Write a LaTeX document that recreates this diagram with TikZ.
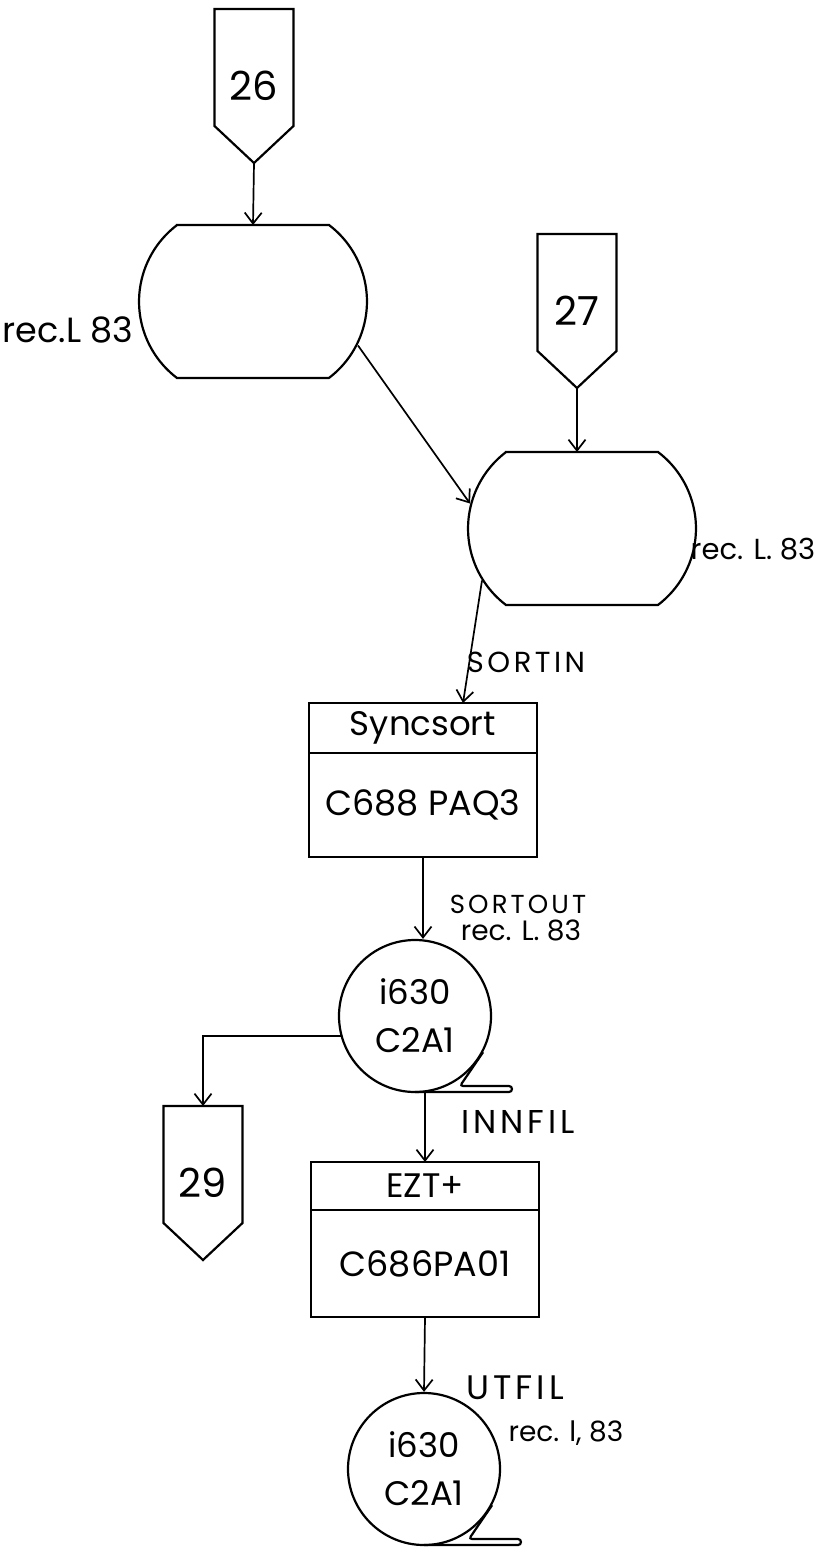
\documentclass[tikz,border=0pt]{standalone}
\usepackage{fontspec}
\setmainfont{Poppins}
\usetikzlibrary{arrows.meta, positioning}

\begin{document}
\begin{tikzpicture}[
    x=1pt, y=-1pt,
    line width=2.2pt,
    offpage/.style={minimum width=79pt, minimum height=154pt, inner sep=0pt, outer sep=0pt, font=\fontsize{40}{44}\selectfont},
    drum/.style={minimum width=230pt, minimum height=153pt, inner sep=0pt, outer sep=0pt},
    tape/.style={draw, circle, minimum size=152pt, inner sep=0pt, align=center, font=\fontsize{34}{48}\selectfont},
    head/.style={draw, minimum width=228pt, minimum height=50pt, inner sep=0pt, outer sep=0pt, font=\fontsize{34}{38}\selectfont},
    body/.style={draw, minimum width=228pt, minimum height=104pt, inner sep=0pt, outer sep=0pt, font=\fontsize{35}{40}\selectfont},
    note/.style={inner sep=0pt, font=\fontsize{28}{32}\selectfont},
    caps/.style={inner sep=0pt, font=\fontsize{#1}{#1}\selectfont\addfontfeature{LetterSpace=12}},
    arrow/.style={-{Straight Barb[length=11pt, width=17pt]}, line width=1.7pt}
]

\fill[white] (0,0) rectangle (815,1549);
\useasboundingbox (0,0) rectangle (815,1549);

\node[offpage] (c26) at (254,86) {26};
\node[drum] (disk1) at (253,301.5) {};
\node[offpage] (c27) at (577,311) {27};
\node[drum] (disk2) at (582,528.5) {};
\node[head] (sync) at (423,728) {Syncsort};
\node[body, below=0pt of sync] (syncbody) {C688 PAQ3};
\node[tape] (tape1) at (415,1016) {i630\\C2A1};
\node[offpage] (c29) at (203,1183) {29};
\node[head, minimum height=48pt] (ezt) at (425,1186) {EZT+};
\node[body, below=0pt of ezt, minimum height=107pt] (eztbody) {C686PA01};
\node[tape] (tape2) at (424,1469) {i630\\C2A1};

\node[note, font=\fontsize{35}{40}\selectfont] (rec1) at (68,330) {rec.L 83};
\node[note, font=\fontsize{29}{32}\selectfont] (rec2) at (753,549) {rec. L. 83};
\node[caps=29] (sortin) at (526,662) {SORTIN};
\node[caps=26] (sortout) at (518,904) {SORTOUT};
\node[note] (rec3) at (521,930) {rec. L. 83};
\node[caps=33] (innfil) at (518,1122) {INNFIL};
\node[caps=34] (utfil) at (515,1388) {UTFIL};
\node[note] (rec4) at (566,1433) {rec. l, 83};

\foreach \pg in {c26,c27,c29}
  \draw (\pg.north west) -- (\pg.north east) -- ([shift={(0,-37)}]\pg.south east)
    -- (\pg.south) -- ([shift={(0,-37)}]\pg.south west) -- cycle;

\foreach \d in {disk1,disk2}
  \draw ([shift={(39,0)}]\d.north west) -- ([shift={(-39,0)}]\d.north east)
    arc[start angle=52.8, end angle=-52.8, radius=96pt]
    -- ([shift={(39,0)}]\d.south west)
    arc[start angle=232.8, end angle=127.2, radius=96pt] -- cycle;

\foreach \t in {tape1,tape2}
  \draw[rounded corners=3pt] (\t.-28) -- ([shift={(45,70)}]\t.center)
    -- ([shift={(97,70)}]\t.center) -- ([shift={(97,76)}]\t.center) -- ([shift={(0,76)}]\t.center);

\draw[arrow] (c26.south) -- (disk1.north);
\draw[arrow] ([shift={(105,44)}]disk1.center) -- ([shift={(-112,-25)}]disk2.center);
\draw[arrow] (c27.south) -- (c27.south |- disk2.north);
\draw[arrow] ([shift={(-100,52)}]disk2.center) -- ([shift={(40,0)}]sync.north);
\draw[arrow] (syncbody.south) -- (syncbody.south |- tape1.north);
\draw[arrow] (tape1.195) -| (c29.north);
\draw[arrow] (ezt.north |- tape1.south) -- (ezt.north);
\draw[arrow] (eztbody.south) -- (tape2.north);

\end{tikzpicture}
\end{document}
